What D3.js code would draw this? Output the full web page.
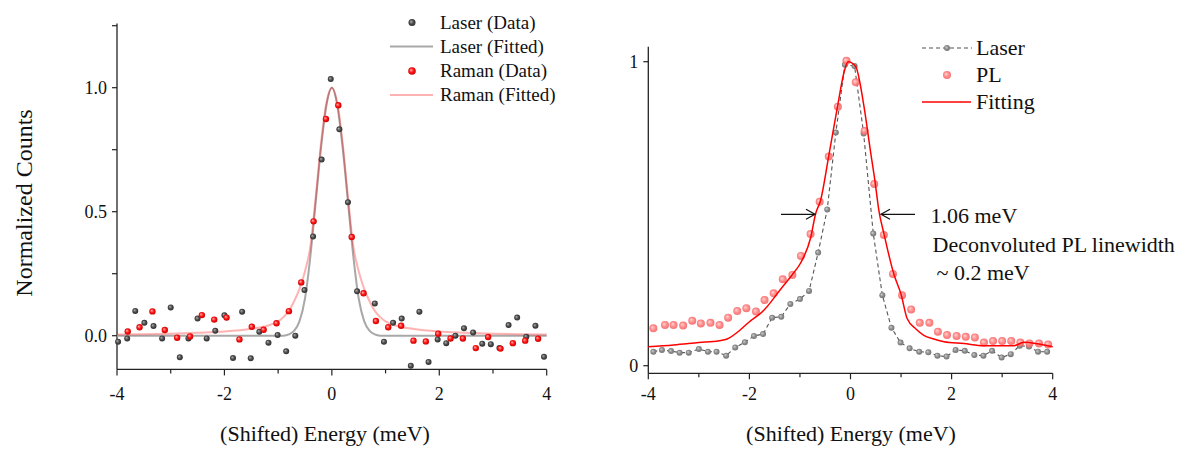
<!DOCTYPE html>
<html>
<head>
<meta charset="utf-8">
<script src="https://cdn.jsdelivr.net/npm/d3@7"></script>
<style>
  html, body { margin: 0; padding: 0; background: #fff; }
  svg { display: block; font-family: "Liberation Serif", "Times New Roman", serif; }
</style>
</head>
<body>
<svg id="chart" width="1182" height="449"></svg>
<script>
// ---------------- Left panel data ----------------
const xTicks = [-4, -3, -2, -1, 0, 1, 2, 3, 4];
const xTickLabels = ["-4", "-2", "0", "2", "4"];
const leftYTicks = [0, 0.25, 0.5, 0.75, 1.0, 1.25];
const leftYTickLabels = ["0.0", "0.5", "1.0"];
const rightYTicks = [0, 1];
const rightYTickLabels = ["0", "1"];

const laserDataX = [-3.98,-3.81,-3.66,-3.49,-3.32,-3.16,-3.0,-2.83,-2.67,-2.50,-2.33,-2.17,-2.0,-1.84,-1.67,-1.51,-1.35,-1.18,-1.01,-0.85,-0.68,-0.51,-0.35,-0.19,-0.02,0.14,0.30,0.47,0.80,0.97,1.14,1.30,1.47,1.63,1.80,1.97,2.13,2.30,2.46,2.63,2.80,2.96,3.12,3.29,3.45,3.62,3.79,3.95];
const laserDataY = [-0.024,-0.011,0.100,0.052,0.039,-0.011,0.114,-0.087,-0.011,0.069,-0.011,0.020,0.082,-0.090,0.097,-0.091,0.016,-0.028,0.003,-0.063,0.0,0.184,0.40,0.71,1.035,0.832,0.538,0.179,0.130,-0.024,0.052,0.069,-0.121,0.097,-0.106,-0.015,-0.030,0.0,0.030,0.013,-0.032,-0.034,-0.050,0.043,0.073,-0.004,0.040,-0.085];

const ramanDataX = [-3.80,-3.58,-3.34,-3.11,-2.88,-2.64,-2.42,-2.19,-1.96,-1.72,-1.49,-1.27,-1.03,-0.80,-0.57,-0.34,-0.11,0.12,0.37,0.59,0.82,1.05,1.29,1.52,1.75,1.98,2.21,2.44,2.68,2.91,3.14,3.37,3.60,3.84];
const ramanDataY = [0.017,0.034,0.098,0.023,-0.008,-0.003,0.083,0.065,0.073,-0.015,0.036,0.024,0.050,0.099,0.215,0.461,0.874,0.929,0.398,0.171,0.059,0.034,0.040,-0.020,-0.023,0.008,-0.011,-0.011,-0.050,-0.005,-0.052,-0.030,-0.020,-0.012];

const laserFitX = [-4,-0.9,-0.8,-0.7,-0.6,-0.5,-0.4,-0.3,-0.2,-0.1,0,0.1,0.2,0.3,0.4,0.5,0.6,0.7,0.8,0.9,4];
const laserFitY = [0,0,0.005,0.02,0.06,0.15,0.32,0.54,0.76,0.93,1.0,0.93,0.76,0.54,0.32,0.15,0.06,0.02,0.005,0,0];

const ramanFitX = [-4,-3.5,-3,-2.5,-2,-1.5,-1.2,-1.0,-0.9,-0.8,-0.7,-0.6,-0.5,-0.4,-0.3,-0.2,-0.1,0,0.1,0.2,0.3,0.4,0.5,0.6,0.7,0.8,0.9,1.0,1.2,1.5,2,2.5,3,3.5,4];
const ramanFitY = [0.005,0.006,0.008,0.012,0.017,0.028,0.040,0.058,0.075,0.10,0.14,0.19,0.26,0.36,0.56,0.78,0.94,1.0,0.94,0.78,0.56,0.36,0.26,0.19,0.14,0.10,0.075,0.058,0.040,0.028,0.017,0.012,0.008,0.006,0.005];

// ---------------- Right panel data ----------------
const laser2X = [-3.90,-3.73,-3.55,-3.38,-3.20,-3.00,-2.82,-2.65,-2.46,-2.28,-2.09,-1.91,-1.73,-1.55,-1.37,-1.19,-1.00,-0.82,-0.64,-0.46,-0.29,-0.11,0.08,0.26,0.45,0.63,0.81,0.99,1.17,1.36,1.54,1.72,1.90,2.08,2.26,2.45,2.63,2.80,2.99,3.17,3.35,3.53,3.71,3.89];
const laser2Y = [0.046,0.052,0.048,0.043,0.043,0.055,0.046,0.046,0.033,0.060,0.077,0.098,0.104,0.158,0.161,0.203,0.219,0.246,0.372,0.514,0.767,0.99,0.986,0.764,0.435,0.232,0.125,0.076,0.057,0.046,0.044,0.033,0.030,0.052,0.049,0.035,0.033,0.049,0.027,0.038,0.066,0.063,0.046,0.046];

const plX = [-3.90,-3.67,-3.50,-3.31,-3.13,-2.96,-2.77,-2.59,-2.42,-2.24,-2.06,-1.87,-1.70,-1.52,-1.34,-1.15,-0.98,-0.79,-0.61,-0.43,-0.25,-0.08,0.105,0.28,0.47,0.66,0.84,1.02,1.20,1.37,1.56,1.73,1.91,2.10,2.28,2.46,2.64,2.82,3.00,3.18,3.36,3.54,3.73,3.91];
const plY = [0.123,0.134,0.134,0.132,0.148,0.139,0.141,0.134,0.158,0.180,0.189,0.178,0.216,0.238,0.284,0.298,0.361,0.433,0.539,0.688,0.852,1.003,0.932,0.772,0.598,0.430,0.302,0.232,0.185,0.141,0.141,0.112,0.101,0.098,0.095,0.093,0.076,0.081,0.081,0.081,0.076,0.073,0.073,0.070];

const fitX = [-4,-3.5,-3,-2.6,-2.44,-2.2,-2.04,-1.71,-1.39,-1.15,-0.99,-0.79,-0.69,-0.59,-0.43,-0.26,-0.12,-0.05,0.1,0.26,0.4,0.49,0.56,0.66,0.86,1.0,1.12,1.3,1.45,1.65,1.85,2.24,2.64,3.23,3.43,3.7,4.0];
const fitY = [0.062,0.068,0.076,0.082,0.088,0.115,0.139,0.183,0.25,0.30,0.337,0.42,0.50,0.545,0.69,0.85,0.97,1.0,0.985,0.86,0.70,0.60,0.512,0.435,0.30,0.235,0.155,0.12,0.10,0.088,0.079,0.073,0.066,0.066,0.077,0.072,0.062];

const leftLegend = ["Laser (Data)", "Laser (Fitted)", "Raman (Data)", "Raman (Fitted)"];
const rightLegend = ["Laser", "PL", "Fitting"];
const annotations = ["1.06 meV", "Deconvoluted PL linewidth", "~ 0.2 meV"];
const axisTitleX = "(Shifted) Energy (meV)";
const axisTitleY = "Normalized Counts";

// ---------------- Drawing ----------------
const svg = d3.select("#chart");
const zip = (xs, ys) => xs.map((x, i) => [x, ys[i]]);

// gradients
const defs = svg.append("defs");
function sphere(id, hi, mid, lo) {
  const g = defs.append("radialGradient").attr("id", id)
    .attr("cx", "50%").attr("cy", "50%").attr("r", "55%").attr("fx", "35%").attr("fy", "35%");
  g.append("stop").attr("offset", "0%").attr("stop-color", hi);
  g.append("stop").attr("offset", "55%").attr("stop-color", mid);
  g.append("stop").attr("offset", "100%").attr("stop-color", lo);
}
sphere("gDark", "#b0b0b0", "#4a4a4a", "#2a2a2a");
sphere("gRed", "#ffb0b0", "#ff1010", "#c00000");
sphere("gGray", "#d0d0d0", "#8c8c8c", "#707070");
sphere("gPink", "#ffd0d0", "#ff8080", "#f06060");

// Left scales
const xL = d3.scaleLinear().domain([-4, 4]).range([117, 546.7]);
const yL = d3.scaleLinear().domain([0, 1]).range([335.7, 87.7]);
const yLmin = -0.136, yLmax = 1.259;

// Right scales
const xR = d3.scaleLinear().domain([-4, 4]).range([648.3, 1052.7]);
const yR = d3.scaleLinear().domain([0, 1]).range([365.7, 61.7]);
const yRmin = -0.025, yRmax = 1.049;

function drawAxes(x, y, yMin, yMax, yTicks, yLabelVals, yLabels) {
  const g = svg.append("g");
  const x0 = x.range()[0];
  const yb = y(yMin);
  g.append("line").attr("x1", x0).attr("x2", x0).attr("y1", y(yMax)).attr("y2", yb)
    .attr("stroke", "#222").attr("stroke-width", 1.3);
  g.append("line").attr("x1", x0).attr("x2", x.range()[1]).attr("y1", yb).attr("y2", yb)
    .attr("stroke", "#222").attr("stroke-width", 1.3);
  xTicks.forEach(t => {
    const major = t % 2 === 0;
    g.append("line").attr("x1", x(t)).attr("x2", x(t)).attr("y1", yb).attr("y2", yb + (major ? 6 : 4))
      .attr("stroke", "#222").attr("stroke-width", 1.2);
  });
  xTickLabels.forEach(l => {
    g.append("text").attr("x", x(+l)).attr("y", 400).attr("text-anchor", "middle")
      .attr("font-size", 18).attr("fill", "#111").text(l);
  });
  yTicks.forEach(t => {
    g.append("line").attr("x1", x0 - 5).attr("x2", x0).attr("y1", y(t)).attr("y2", y(t))
      .attr("stroke", "#222").attr("stroke-width", 1.2);
  });
  yLabels.forEach((l, i) => {
    g.append("text").attr("x", x0 - 10).attr("y", y(yLabelVals[i])).attr("dy", "0.35em")
      .attr("text-anchor", "end").attr("font-size", 18).attr("fill", "#111").text(l);
  });
}

drawAxes(xL, yL, yLmin, yLmax, leftYTicks, [0, 0.5, 1.0], leftYTickLabels);
drawAxes(xR, yR, yRmin, yRmax, rightYTicks, [0, 1], rightYTickLabels);

// Axis titles
svg.append("text").attr("x", 325).attr("y", 441).attr("text-anchor", "middle")
  .attr("font-size", 22).attr("fill", "#111").text(axisTitleX);
svg.append("text").attr("x", 851).attr("y", 441).attr("text-anchor", "middle")
  .attr("font-size", 22).attr("fill", "#111").text(axisTitleX);
svg.append("text").attr("transform", "translate(31.5,203) rotate(-90)").attr("text-anchor", "middle")
  .attr("font-size", 24).attr("fill", "#111").text(axisTitleY);

// Left curves
const lineL = d3.line().x(d => xL(d[0])).y(d => yL(d[1]));
svg.append("path").datum(zip(laserFitX, laserFitY)).attr("d", lineL.curve(d3.curveMonotoneX))
  .attr("fill", "none").attr("stroke", "#a8a8a8").attr("stroke-width", 2);
svg.append("path").datum(zip(ramanFitX, ramanFitY)).attr("d", lineL.curve(d3.curveMonotoneX))
  .attr("fill", "none").attr("stroke", "rgba(255,0,0,0.3)").attr("stroke-width", 2);

// Left points
svg.append("g").selectAll("circle").data(zip(laserDataX, laserDataY)).join("circle")
  .attr("cx", d => xL(d[0])).attr("cy", d => yL(d[1])).attr("r", 3)
  .attr("fill", "url(#gDark)");
svg.append("g").selectAll("circle").data(zip(ramanDataX, ramanDataY)).join("circle")
  .attr("cx", d => xL(d[0])).attr("cy", d => yL(d[1])).attr("r", 3.2)
  .attr("fill", "url(#gRed)");

// Left legend
const lg = svg.append("g").attr("font-size", 19).attr("fill", "#111");
lg.append("circle").attr("cx", 412).attr("cy", 22.5).attr("r", 3.5).attr("fill", "url(#gDark)");
lg.append("line").attr("x1", 390).attr("x2", 433).attr("y1", 46.5).attr("y2", 46.5)
  .attr("stroke", "#a8a8a8").attr("stroke-width", 2);
lg.append("circle").attr("cx", 412).attr("cy", 71).attr("r", 3.8).attr("fill", "url(#gRed)");
lg.append("line").attr("x1", 390).attr("x2", 433).attr("y1", 95).attr("y2", 95)
  .attr("stroke", "rgba(255,0,0,0.3)").attr("stroke-width", 2);
[22.5, 46.5, 71, 95].forEach((yy, i) => {
  lg.append("text").attr("x", 440).attr("y", yy).attr("dy", "0.33em").text(leftLegend[i]);
});

// Right curves and points
const lineR = d3.line().x(d => xR(d[0])).y(d => yR(d[1]));
svg.append("path").datum(zip(laser2X, laser2Y)).attr("d", lineR.curve(d3.curveLinear))
  .attr("fill", "none").attr("stroke", "#555").attr("stroke-width", 1.1).attr("stroke-dasharray", "4,3");
svg.append("g").selectAll("circle").data(zip(laser2X, laser2Y)).join("circle")
  .attr("cx", d => xR(d[0])).attr("cy", d => yR(d[1])).attr("r", 3)
  .attr("fill", "url(#gGray)");
svg.append("g").selectAll("circle").data(zip(plX, plY)).join("circle")
  .attr("cx", d => xR(d[0])).attr("cy", d => yR(d[1])).attr("r", 4)
  .attr("fill", "url(#gPink)").attr("opacity", 0.9);
svg.append("path").datum(zip(fitX, fitY)).attr("d", lineR.curve(d3.curveMonotoneX))
  .attr("fill", "none").attr("stroke", "#ff0000").attr("stroke-width", 1.5);

// Right legend
const rg = svg.append("g").attr("font-size", 22).attr("fill", "#111");
rg.append("line").attr("x1", 922).attr("x2", 972).attr("y1", 48).attr("y2", 48)
  .attr("stroke", "#555").attr("stroke-width", 1.1).attr("stroke-dasharray", "4,3");
rg.append("circle").attr("cx", 947).attr("cy", 48).attr("r", 3).attr("fill", "url(#gGray)");
rg.append("circle").attr("cx", 947).attr("cy", 75).attr("r", 4).attr("fill", "url(#gPink)").attr("opacity", 0.9);
rg.append("line").attr("x1", 922).attr("x2", 971).attr("y1", 102).attr("y2", 102)
  .attr("stroke", "#ff0000").attr("stroke-width", 1.5);
[48, 75, 102].forEach((yy, i) => {
  rg.append("text").attr("x", 976).attr("y", yy).attr("dy", "0.33em").text(rightLegend[i]);
});

// Arrows
function arrow(x1, x2, y) {
  const g = svg.append("g").attr("stroke", "#111").attr("stroke-width", 1.2).attr("fill", "none");
  g.append("line").attr("x1", x1).attr("x2", x2).attr("y1", y).attr("y2", y);
  const dir = Math.sign(x2 - x1);
  g.append("path").attr("d", `M${x2 - dir * 9},${y - 5} L${x2},${y} L${x2 - dir * 9},${y + 5}`);
}
arrow(781, 815, 214.3);
arrow(915, 881, 214.3);

const ag = svg.append("g").attr("font-size", 22).attr("fill", "#111");
ag.append("text").attr("x", 930.5).attr("y", 223).text(annotations[0]);
ag.append("text").attr("x", 932.5).attr("y", 252).text(annotations[1]);
ag.append("text").attr("x", 936.5).attr("y", 280).text(annotations[2]);
</script>
</body>
</html>
